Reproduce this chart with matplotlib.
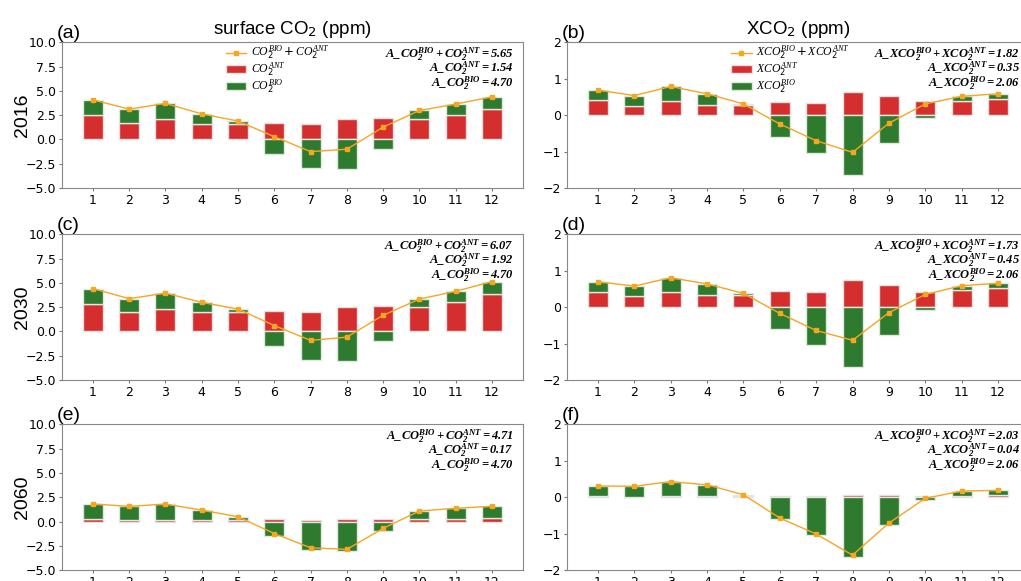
import numpy as np
import matplotlib
matplotlib.use("Agg")
import matplotlib.pyplot as plt

plt.rcParams["mathtext.fontset"] = "custom"
plt.rcParams["mathtext.rm"] = "DejaVu Sans"
plt.rcParams["mathtext.sf"] = "DejaVu Sans"
plt.rcParams["mathtext.it"] = "Liberation Serif:italic"
plt.rcParams["mathtext.bf"] = "Liberation Serif:italic:bold"

months = np.arange(1, 13)
years = ["2016", "2030", "2060"]

# biogenic component (same for every year)
co2_bio = np.array([1.59, 1.38, 1.60, 1.00, 0.34, -1.46, -2.89, -3.09, -0.98, 0.83, 1.08, 1.25])
xco2_bio = np.array([0.28, 0.28, 0.40, 0.31, 0.04, -0.61, -1.05, -1.65, -0.76, -0.07, 0.13, 0.14])

# anthropogenic component per year
co2_ant = {
    "2016": np.array([2.50, 1.75, 2.12, 1.64, 1.56, 1.75, 1.64, 2.09, 2.26, 2.16, 2.57, 3.15]),
    "2030": np.array([2.83, 2.00, 2.35, 2.00, 1.97, 2.07, 1.97, 2.51, 2.65, 2.51, 3.06, 3.89]),
    "2060": np.array([0.22, 0.18, 0.20, 0.17, 0.15, 0.22, 0.18, 0.22, 0.28, 0.25, 0.28, 0.32]),
}
xco2_ant = {
    "2016": np.array([0.41, 0.26, 0.39, 0.28, 0.27, 0.37, 0.35, 0.63, 0.54, 0.38, 0.39, 0.45]),
    "2030": np.array([0.42, 0.30, 0.41, 0.33, 0.34, 0.44, 0.41, 0.74, 0.61, 0.42, 0.46, 0.52]),
    "2060": np.array([0.03, 0.02, 0.03, 0.03, 0.03, 0.04, 0.04, 0.06, 0.05, 0.04, 0.04, 0.05]),
}

# seasonal amplitudes
co2_amp = {"2016": (5.65, 1.54, 4.70), "2030": (6.07, 1.92, 4.70), "2060": (4.71, 0.17, 4.70)}
xco2_amp = {"2016": (1.82, 0.35, 2.06), "2030": (1.73, 0.45, 2.06), "2060": (2.03, 0.04, 2.06)}

RED = "#d42e2e"
GREEN = "#2e7a2e"
ORANGE = "#f5a623"
SANS = "Liberation Sans"


def draw_panel(ax, ant, bio, amp, name, ylim, yticks, label, show_legend):
    bottom = np.where(bio > 0, ant, 0.0)
    b_ant = ax.bar(months, ant, width=0.55, color=RED, edgecolor="#e8e0e0", lw=1.0)
    b_bio = ax.bar(months, bio, width=0.55, bottom=bottom, color=GREEN, edgecolor="#e0e8e0", lw=1.0)
    ln, = ax.plot(months, ant + bio, color=ORANGE, lw=1.0, marker="s", ms=3)

    ax.set_ylim(*ylim)
    ax.set_yticks(yticks)
    ax.set_xticks(months)
    ax.tick_params(labelsize=9, color="#777777", length=2, pad=2)
    for sp in ax.spines.values():
        sp.set_color("#888888")

    total, anth, bion = amp
    lines = [rf"$\mathbf{{A\_{name}_2^{{BIO}}+{name}_2^{{ANT}}={total:.2f}}}$",
             rf"$\mathbf{{A\_{name}_2^{{ANT}}={anth:.2f}}}$",
             rf"$\mathbf{{A\_{name}_2^{{BIO}}={bion:.2f}}}$"]
    for k, s in enumerate(lines):
        ax.text(0.98, 0.92 - 0.1 * k, s, transform=ax.transAxes, ha="right", va="center",
                fontsize=9)
    ax.text(-0.012, 1.0, label, transform=ax.transAxes, ha="left", va="bottom",
            fontsize=14, family=SANS)

    if show_legend:
        ax.legend([ln, b_ant, b_bio],
                  [rf"${name}_2^{{BIO}}+{name}_2^{{ANT}}$", rf"${name}_2^{{ANT}}$", rf"${name}_2^{{BIO}}$"],
                  loc="upper left", bbox_to_anchor=(0.355, 0.99), frameon=False, fontsize=8.5,
                  handlelength=1.75, handletextpad=0.4, labelspacing=-0.12,
                  borderpad=0.0, borderaxespad=0.0)


fig = plt.figure(figsize=(10.21, 5.81), dpi=100)
rows = [0.6764, 0.346, 0.0189]
letters = iter("abcdef")
for i, yr in enumerate(years):
    ax_l = fig.add_axes([0.0607, rows[i], 0.4515, 0.2505])
    draw_panel(ax_l, co2_ant[yr], co2_bio, co2_amp[yr], "CO",
               (-5, 10), np.arange(-5, 10.1, 2.5), f"({next(letters)})", i == 0)
    ax_l.set_ylabel(yr, fontsize=14, family=SANS)
    ax_l.yaxis.set_label_coords(-0.067, 0.5)

    ax_r = fig.add_axes([0.5553, rows[i], 0.4525, 0.2505])
    draw_panel(ax_r, xco2_ant[yr], xco2_bio, xco2_amp[yr], "XCO",
               (-2, 2), np.arange(-2, 2.1, 1), f"({next(letters)})", i == 0)
    if i == 0:
        ax_l.set_title(r"surface CO$_2$ (ppm)", fontsize=13.5, family=SANS)
        ax_r.set_title(r"XCO$_2$ (ppm)", fontsize=13.5, family=SANS)

fig.savefig("out.png", dpi=100)
